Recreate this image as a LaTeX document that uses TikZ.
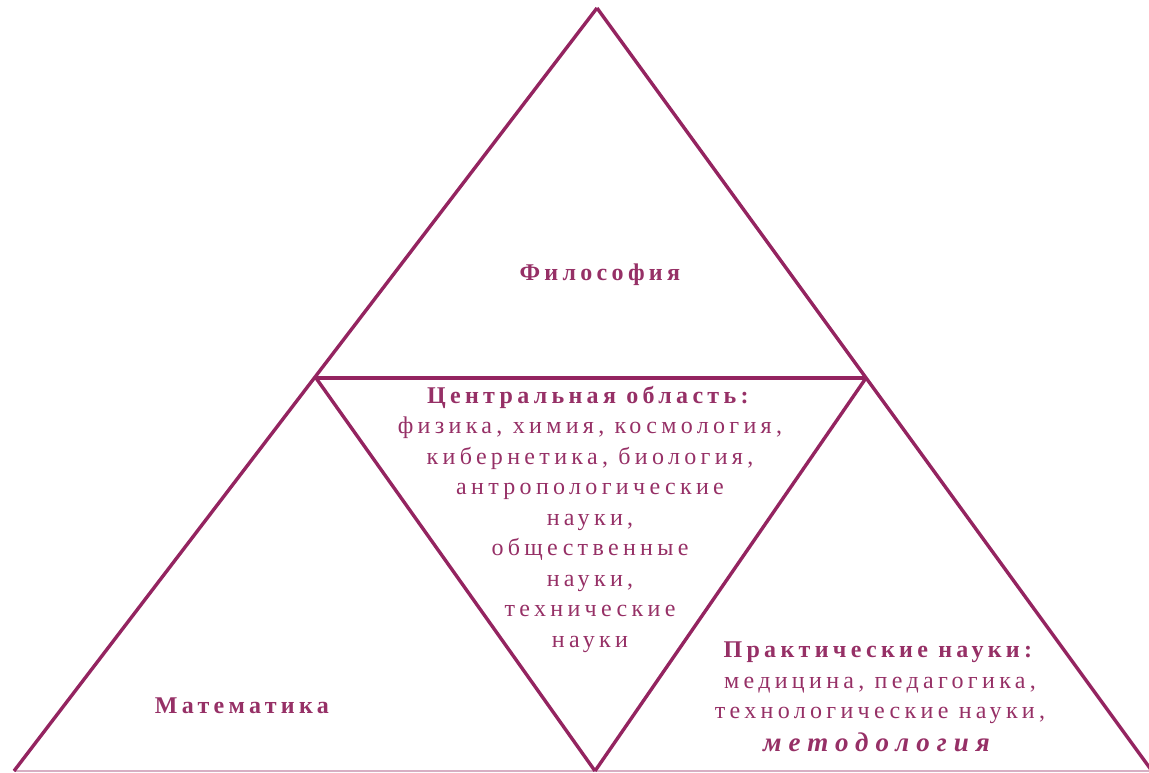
\documentclass[tikz,border=0pt]{standalone}
\usepackage{fontspec}
\setmainfont{Liberation Serif}
\newfontfamily\spaced[LetterSpace=18]{Liberation Serif}
\newfontfamily\widespaced[LetterSpace=26]{Liberation Serif}
\definecolor{plum}{RGB}{148,36,96}
\definecolor{plumtext}{RGB}{150,48,102}
\definecolor{plumlight}{RGB}{215,175,195}
\tikzset{
  edge/.style={draw=plum, line width=3.4pt, line join=round},
  baseedge/.style={draw=plumlight, line width=1.2pt},
  lbl/.style={text=plumtext, align=center, inner sep=0pt,
    font=\fontsize{24}{30.5}\selectfont\spaced},
}
\begin{document}
\begin{tikzpicture}[x=1pt,y=-1pt]
\useasboundingbox (0,0) rectangle (1149,773);
\clip (0,0) rectangle (1149,773);
\coordinate (A) at (597,8);
\coordinate (L) at (14,771);
\coordinate (R) at (1152,771);
\coordinate (P) at (316,378);
\coordinate (Q) at (866,378);
\coordinate (M) at (595,771);
\draw[baseedge] (L) -- (R);
\draw[edge] (A) -- (L);
\draw[edge] (A) -- (R);
\draw[edge] (P) -- (Q);
\draw[edge] (P) -- (M);
\draw[edge] (Q) -- (M);
\node[lbl, anchor=base] (phil) at (602,280) {\textbf{Философия}};
\node[lbl, anchor=north] (central) at (590,386) {\textbf{Центральная область:}\\
физика, химия, космология,\\
кибернетика, биология,\\
антропологические\\
науки,\\
общественные\\
науки,\\
технические\\
науки};
\node[lbl, anchor=base] (math) at (244,713) {\textbf{Математика}};
\node[lbl, anchor=north] (prac) at (880,642) {\textbf{Практические науки:}\\
медицина, педагогика,\\
технологические науки,\\[2pt]
{\widespaced\fontsize{27}{30.5}\selectfont\textbf{\textit{методология}}}};
\end{tikzpicture}
\end{document}
